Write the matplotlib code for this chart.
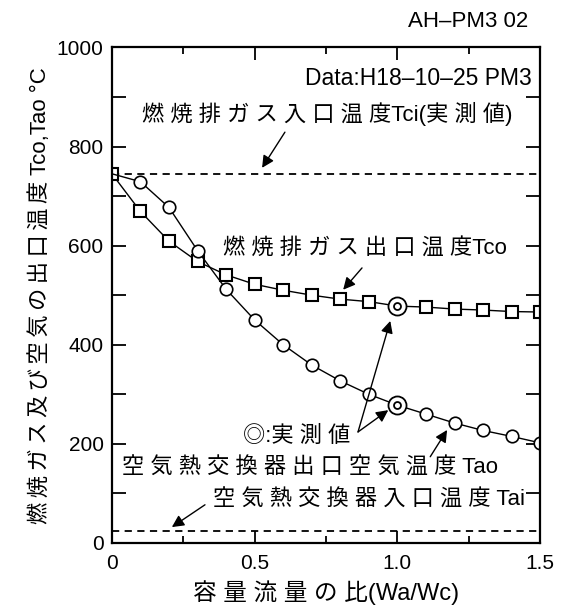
import matplotlib
matplotlib.use("Agg")
import matplotlib.pyplot as plt
from matplotlib.ticker import MultipleLocator

plt.rcParams['font.family'] = ['Liberation Sans', 'Noto Sans CJK JP', 'DejaVu Sans']
plt.rcParams['axes.unicode_minus'] = False

# data
ratio = [0.0, 0.1, 0.2, 0.3, 0.4, 0.5, 0.6, 0.7, 0.8, 0.9, 1.0, 1.1, 1.2, 1.3, 1.4, 1.5]
tco = [745, 669, 609, 568, 541, 522, 510, 500, 492, 487, 478, 476, 472, 470, 467, 466]
tao = [745, 729, 677, 590, 512, 450, 400, 359, 327, 300, 278, 260, 242, 227, 215, 202]
meas_x = [1.0, 1.0]
meas_y = [478, 278]
tci = 745
tai = 25


def spaced(s, sep=' '):
    return sep.join(s)


fig = plt.figure(figsize=(5.68, 6.08), dpi=100)
ax = fig.add_axes([0.197, 0.107, 0.754, 0.815])

ax.axhline(tci, color='black', lw=1.3, ls=(0, (4, 3)))
ax.axhline(tai, color='black', lw=1.3, ls=(0, (4, 3)))

mx = [x for x in ratio if x != 1.0]
ax.plot(ratio, tco, color='black', lw=1.0)
ax.plot(mx, [v for x, v in zip(ratio, tco) if x != 1.0], ls='none', marker='s', ms=9,
        mfc='white', mec='black', mew=1.5)
ax.plot(ratio, tao, color='black', lw=1.0)
ax.plot(mx[1:], [v for x, v in zip(ratio, tao) if x != 1.0][1:], ls='none', marker='o', ms=9,
        mfc='white', mec='black', mew=1.2)
ax.plot(meas_x, meas_y, ls='none', marker='o', ms=13, mfc='white', mec='black', mew=1.3)
ax.plot(meas_x, meas_y, ls='none', marker='o', ms=5, mfc='white', mec='black', mew=1.3)

ax.set_xlim(0, 1.5)
ax.set_ylim(0, 1000)
ax.xaxis.set_minor_locator(MultipleLocator(0.25))
ax.yaxis.set_major_locator(MultipleLocator(200))
ax.yaxis.set_minor_locator(MultipleLocator(100))
ax.set_xticks([0, 0.5, 1.0, 1.5])
ax.set_xticklabels(['0', '0.5', '1.0', '1.5'])
ax.tick_params(which='both', direction='in', top=True, right=True, width=1.3,
               labelsize=15)
ax.tick_params(axis='x', which='major', length=9, pad=8)
ax.tick_params(axis='x', which='minor', length=5)
ax.tick_params(axis='y', which='both', length=10, pad=6)
for s in ax.spines.values():
    s.set_linewidth(1.6)

ax.set_xlabel(spaced('容量流量の比') + '(Wa/Wc)', fontsize=17, labelpad=5)
ax.set_ylabel(spaced('燃焼ガス及び空気の出口温度', '\u2009') + ' Tco,Tao \u00b0C',
              fontsize=16, labelpad=4)

fs = 16
ax.text(1.47, 938, 'Data:H18\u201310\u201325 PM3', ha='right', va='center', fontsize=16.5)
fig.text(0.93, 0.964, 'AH\u2013PM3 02', ha='right', va='center', fontsize=16)

arrow = dict(arrowstyle='-|>', color='black', lw=1.0, mutation_scale=18,
             shrinkA=0, shrinkB=0)

ax.text(0.755, 866, spaced('燃焼排ガス入口温度') + 'Tci(' + spaced('実測値') + ')',
        ha='center', va='center', fontsize=fs)
ax.annotate('', xy=(0.526, 757), xytext=(0.606, 829), arrowprops=arrow)

ax.text(0.885, 595, spaced('燃焼排ガス出口温度') + 'Tco', ha='center', va='center', fontsize=fs)
ax.annotate('', xy=(0.81, 511), xytext=(0.876, 555), arrowprops=arrow)

ax.text(0.648, 216, '◎:' + spaced('実測値'), ha='center', va='center', fontsize=fs)
ax.annotate('', xy=(0.975, 448), xytext=(0.862, 224), arrowprops=arrow)
ax.annotate('', xy=(0.968, 268), xytext=(0.862, 224), arrowprops=arrow)

ax.text(0.694, 151, spaced('空気熱交換器出口空気温度') + ' Tao', ha='center', va='center', fontsize=fs)
ax.annotate('', xy=(1.174, 228), xytext=(1.115, 174), arrowprops=arrow)

ax.text(0.90, 87, spaced('空気熱交換器入口温度') + ' Tai', ha='center', va='center', fontsize=fs)
ax.annotate('', xy=(0.21, 32), xytext=(0.326, 77), arrowprops=arrow)

fig.savefig('out.png', dpi=100)
